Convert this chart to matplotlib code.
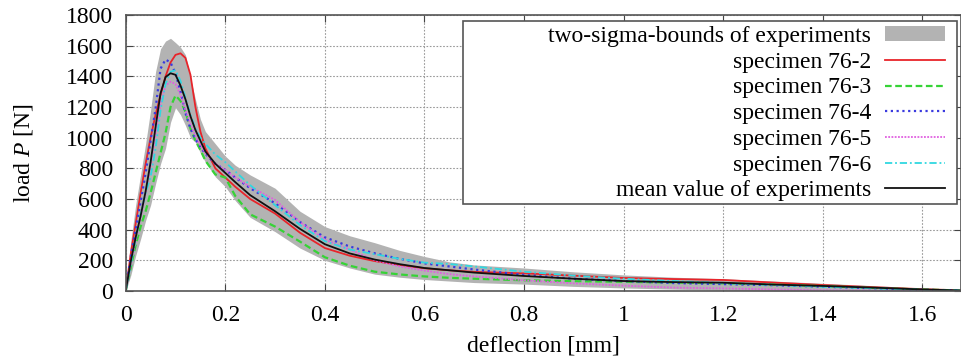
import matplotlib
matplotlib.use("Agg")
import matplotlib.pyplot as plt
from matplotlib.patches import Rectangle

plt.rcParams['font.family'] = ['Liberation Serif', 'DejaVu Serif']
plt.rcParams['mathtext.fontset'] = 'custom'
plt.rcParams['mathtext.rm'] = 'Liberation Serif'
plt.rcParams['mathtext.it'] = 'Liberation Serif:italic'

# deflection [mm] (shared sampling points)
defl = [0, 0.01, 0.02, 0.03, 0.04, 0.05, 0.06, 0.07, 0.08, 0.09, 0.10, 0.11, 0.12, 0.13,
        0.14, 0.15, 0.16, 0.18, 0.20, 0.22, 0.25, 0.30, 0.35, 0.40, 0.45, 0.50, 0.55,
        0.60, 0.65, 0.70, 0.80, 0.90, 1.00, 1.10, 1.20, 1.30, 1.40, 1.50, 1.60, 1.68]

# load [N]
band_hi = [0, 320, 560, 760, 960, 1180, 1430, 1580, 1630, 1648, 1620, 1590, 1540, 1390,
           1250, 1120, 1040, 960, 880, 820, 757, 670, 520, 420, 360, 315, 265,
           225, 190, 170, 150, 125, 105, 90, 80, 65, 50, 35, 18, 8]
band_lo = [0, 100, 230, 340, 460, 560, 700, 830, 930, 1100, 1195, 1150, 1080, 1000,
           970, 900, 840, 745, 680, 590, 480, 387, 280, 200, 150, 110, 90,
           75, 65, 55, 45, 30, 20, 12, 5, 0, 0, 0, 0, 0]
s76_2 = [0, 240, 440, 640, 830, 1000, 1150, 1280, 1400, 1490, 1540, 1550, 1520, 1410,
         1200, 1040, 930, 800, 740, 680, 600, 505, 380, 280, 230, 195, 170,
         148, 135, 125, 115, 100, 85, 78, 72, 55, 39, 25, 12, 4]
s76_3 = [0, 150, 300, 420, 520, 640, 770, 900, 1030, 1200, 1275, 1240, 1170, 1060,
         980, 920, 850, 760, 740, 620, 500, 420, 322, 220, 165, 126, 108,
         95, 86, 80, 70, 64, 60, 55, 50, 42, 32, 20, 10, 3]
s76_4 = [0, 220, 400, 580, 770, 980, 1190, 1450, 1510, 1490, 1420, 1300, 1160, 1060,
         990, 940, 895, 830, 790, 740, 670, 572, 450, 350, 290, 246, 210,
         180, 160, 140, 105, 80, 65, 52, 45, 38, 28, 18, 8, 3]
s76_5 = [0, 170, 330, 480, 640, 820, 1020, 1220, 1340, 1365, 1350, 1280, 1180, 1090,
         1010, 950, 900, 830, 790, 740, 680, 594, 450, 335, 270, 200, 160,
         133, 110, 95, 70, 50, 35, 22, 17, 10, 5, 2, 0, 0]
s76_6 = [0, 170, 340, 500, 640, 745, 930, 1180, 1350, 1430, 1440, 1370, 1260, 1150,
         1060, 1000, 960, 890, 840, 780, 690, 560, 430, 325, 270, 240, 210,
         185, 176, 160, 126, 100, 80, 65, 52, 40, 28, 18, 8, 3]
mean = [0, 190, 350, 490, 650, 840, 1070, 1290, 1395, 1420, 1410, 1340, 1250, 1140,
        1050, 980, 910, 830, 770, 710, 625, 520, 405, 305, 245, 205, 175,
        150, 135, 120, 98, 80, 65, 58, 54, 42, 33, 22, 10, 3]

xticks = [0, 0.2, 0.4, 0.6, 0.8, 1, 1.2, 1.4, 1.6]
xticklabels = ['0', '0.2', '0.4', '0.6', '0.8', '1', '1.2', '1.4', '1.6']
yticks = [0, 200, 400, 600, 800, 1000, 1200, 1400, 1600, 1800]

fig = plt.figure(figsize=(9.61, 3.6), dpi=100)
ax = fig.add_axes([125.7 / 961, 1 - 291 / 360, (961 - 125.7) / 961, 276 / 360])

ax.fill_between(defl, band_lo, band_hi, color='#b3b3b3', lw=0,
                label='two-sigma-bounds of experiments')
ax.plot(defl, s76_2, color='#e8242a', lw=1.3, ls='-', label='specimen 76-2')
ax.plot(defl, s76_3, color='#36d336', lw=1.6, ls=(0, (3, 1.6)), label='specimen 76-3')
ax.plot(defl, s76_4, color='#3a3adf', lw=1.6, ls=(0, (1, 1.6)), label='specimen 76-4')
ax.plot(defl, s76_5, color='#e060e0', lw=1.3, ls=(0, (1, 0.8)), label='specimen 76-5')
ax.plot(defl, s76_6, color='#30d8e0', lw=1.3, ls=(0, (4, 1.6, 1, 1.6)), label='specimen 76-6')
ax.plot(defl, mean, color='#111111', lw=1.3, ls='-', label='mean value of experiments')

ax.set_xlim(0, (961 - 125.7) / 498)
ax.set_ylim(0, 1800)
ax.set_xticks(xticks)
ax.set_xticklabels(xticklabels)
ax.set_yticks(yticks)
ax.tick_params(direction='in', top=True, right=True, length=5, width=0.8,
               color='#444444', labelsize=17)
ax.tick_params(axis='x', pad=10)
ax.tick_params(axis='y', pad=9)
ax.grid(True, color='#999999', ls=(0, (1.5, 1.5)), lw=0.8)
ax.set_axisbelow(True)
for sp in ax.spines.values():
    sp.set_color('#555555')
    sp.set_linewidth(1.2)

ax.set_xlabel('deflection [mm]', fontsize=17, labelpad=7)
ax.set_ylabel('load $P$ [N]', fontsize=17, labelpad=22)

# legend box (wider than its content, like the original)
box = Rectangle((0.4038, 0.3152), 0.9952 - 0.4038, 0.978 - 0.3152, transform=ax.transAxes,
                facecolor='white', edgecolor='#555555', lw=1.2, zorder=4)
ax.add_patch(box)
leg = ax.legend(loc='upper right', bbox_to_anchor=(0.9944, 1.003), frameon=False,
                markerfirst=False, fontsize=17, borderpad=0, labelspacing=0.2,
                handlelength=2.5, handletextpad=0.6, handleheight=0.6)
leg.set_zorder(5)

fig.savefig('out.png', dpi=100)
